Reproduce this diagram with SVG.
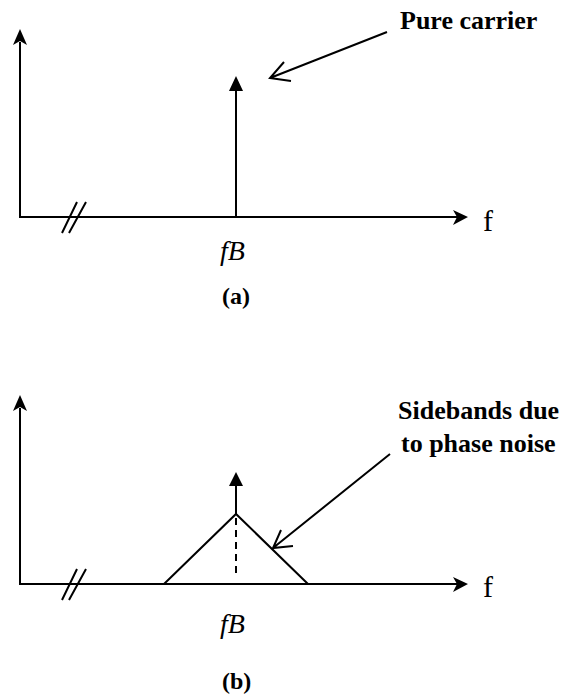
<svg xmlns="http://www.w3.org/2000/svg" width="563" height="698" viewBox="0 0 563 698">
<style>
.ln{stroke:#000;stroke-width:2;fill:none;stroke-linecap:butt}
.ah{fill:#000;stroke:none}
.lbl{font-family:"Liberation Serif","Times New Roman",serif;fill:#000}
.b{font-weight:bold;font-size:26px}
.it{font-style:italic;font-size:28px}
.f{font-size:30px}
.cap{font-weight:bold;font-size:24px}
</style>
<g id="panel-a">
  <g id="axes-a">
    <path class="ln" d="M20,42 V217 H72"/>
    <path class="ln" d="M72,217 H458" stroke-width="1.8"/>
    <path class="ah" d="M20,29 L27,45 L20,41 L13,45 Z"/>
    <path class="ah" d="M468,217 L453,225 L457,217 L453,210 Z"/>
    <path class="ln" d="M62,233 L77,202 M69,233 L86,202"/>
  </g>
  <g id="carrier-a">
    <path class="ln" d="M236,217 V89"/>
    <path class="ah" d="M236,76 L243,91 L229,91 Z"/>
  </g>
  <g id="pointer-a">
    <path class="ln" d="M387,32 L270,78 M284,62 L270,78 L291,81"/>
  </g>
  <text class="lbl b" x="400" y="29">Pure carrier</text>
  <text class="lbl f" x="483" y="231">f</text>
  <text class="lbl it" x="220" y="260">fB</text>
  <text class="lbl cap" x="222" y="304">(a)</text>
</g>
<g id="panel-b">
  <g id="axes-b">
    <path class="ln" d="M20,408 V584 H72"/>
    <path class="ln" d="M72,584 H458" stroke-width="1.8"/>
    <path class="ah" d="M20,395 L27,411 L20,407 L13,411 Z"/>
    <path class="ah" d="M468,584 L453,592 L457,584 L453,577 Z"/>
    <path class="ln" d="M62,600 L77,569 M69,600 L86,569"/>
  </g>
  <g id="sidebands-b">
    <path class="ln" d="M164,584 L236,514 L308,584"/>
    <path class="ln" d="M236,518 V578" stroke-dasharray="7 5"/>
  </g>
  <g id="carrier-b">
    <path class="ln" d="M236,514 V485"/>
    <path class="ah" d="M236,472 L243,486 L229,486 Z"/>
  </g>
  <g id="pointer-b">
    <path class="ln" d="M390,454 L273,548 M281,530 L273,548 L293,546"/>
  </g>
  <text class="lbl b" x="398" y="419">Sidebands due</text>
  <text class="lbl b" x="401" y="452">to phase noise</text>
  <text class="lbl f" x="483" y="597">f</text>
  <text class="lbl it" x="220" y="633">fB</text>
  <text class="lbl cap" x="222" y="689">(b)</text>
</g>
</svg>
